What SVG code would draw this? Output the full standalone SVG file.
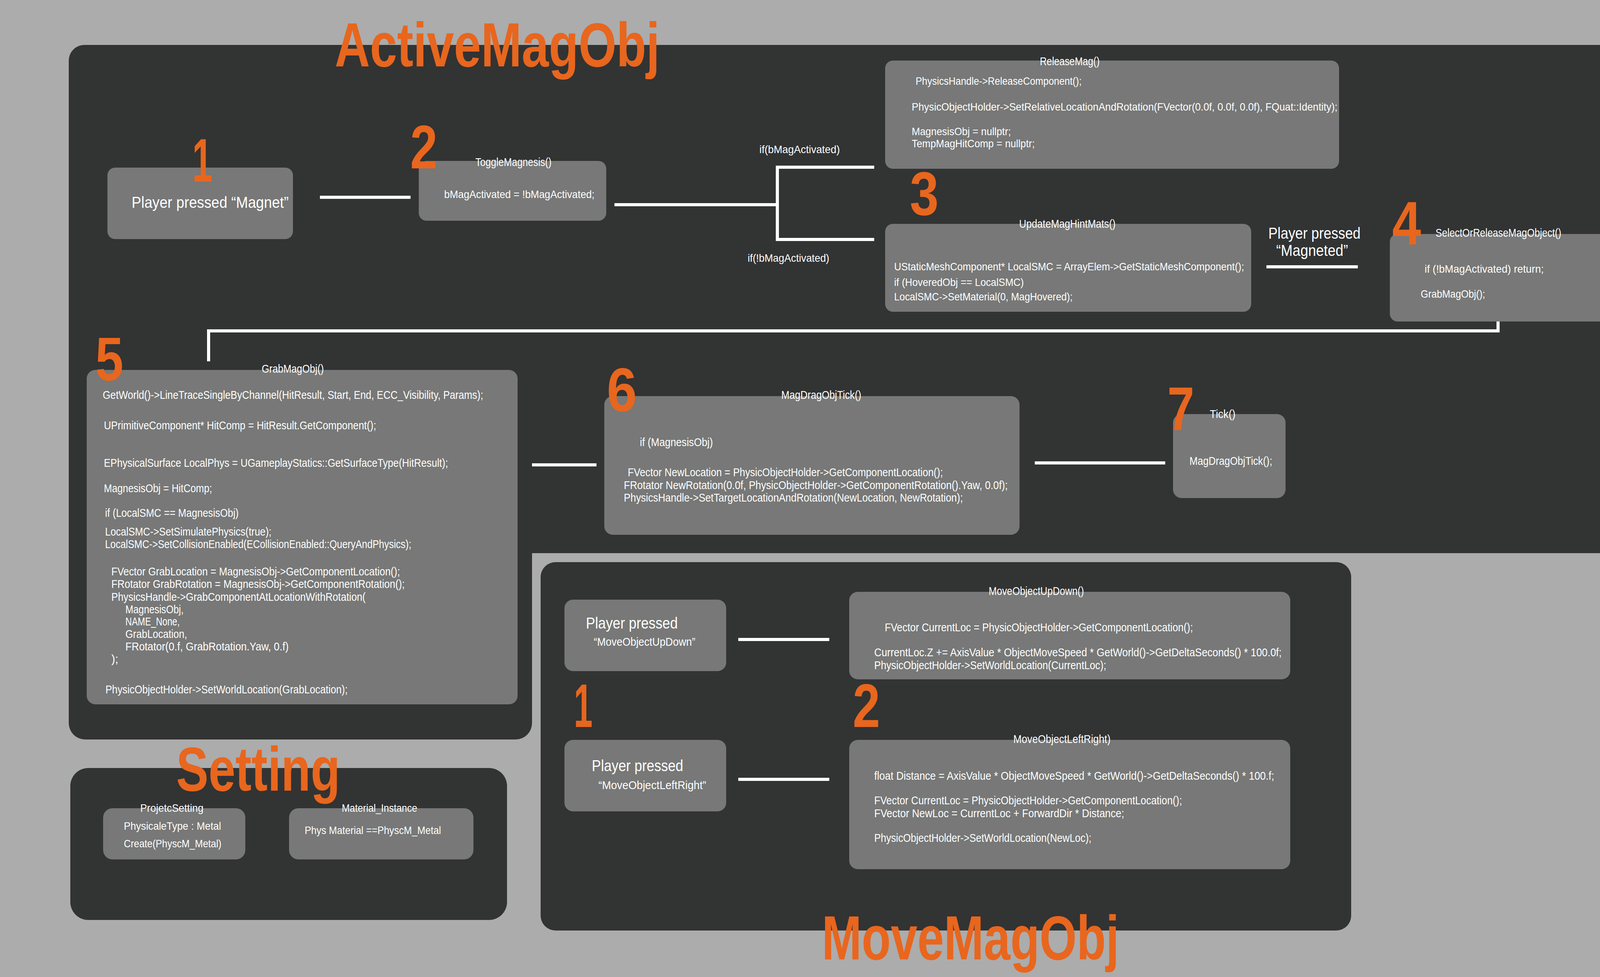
<svg xmlns="http://www.w3.org/2000/svg" width="4378" height="2501" viewBox="0 0 4378 2501">
<style>
text{font-family:"Liberation Sans",Arial,sans-serif;fill:#ffffff;}
.panel{fill:#323333;}
.box{fill:#777877;}
.title{font-size:160px;fill:#e8661e;font-weight:bold;}
.num{font-size:158px;fill:#e8661e;text-anchor:middle;font-weight:bold;}
.t{font-size:30px;}
.s{font-size:28px;}
.big{font-size:40px;}
.conn{stroke:#ffffff;stroke-width:8;fill:none;}
</style>
<rect x="0" y="0" width="4378" height="2501" fill="#acacac"/>

<g id="panel-activemagobj">
<path class="panel" d="M 216 115 H 4170 A 40 40 0 0 1 4210 155 V 1376 A 40 40 0 0 1 4170 1416 H 1362 V 1851 A 42 42 0 0 1 1320 1893 H 218 A 42 42 0 0 1 176 1851 V 155 A 40 40 0 0 1 216 115 Z"/>
</g>
<g id="panel-movemagobj">
<rect class="panel" x="1384" y="1439" width="2075" height="943" rx="38"/>
</g>
<g id="panel-setting">
<rect class="panel" x="180" y="1966" width="1118" height="389" rx="46"/>
</g>

<g id="connectors">
<line class="conn" x1="819" y1="505" x2="1051" y2="505"/>
<line class="conn" x1="1573" y1="524" x2="1990" y2="524"/>
<polyline class="conn" points="2238,428 1990,428 1990,613 2238,613"/>
<line class="conn" x1="3242" y1="683" x2="3476" y2="683"/>
<polyline class="conn" points="3835,823 3835,847 534,847 534,925"/>
<line class="conn" x1="1362" y1="1190" x2="1527" y2="1190"/>
<line class="conn" x1="2649" y1="1185" x2="2983" y2="1185"/>
<line class="conn" x1="1890" y1="1637" x2="2123" y2="1637"/>
<line class="conn" x1="1890" y1="1995" x2="2123" y2="1995"/>
</g>

<g id="label-branches">
<text class="s" x="1944" y="392" textLength="206" lengthAdjust="spacingAndGlyphs">if(bMagActivated)</text>
<text class="s" x="1914" y="670" textLength="209" lengthAdjust="spacingAndGlyphs">if(!bMagActivated)</text>
</g>

<g id="node-player-magnet">
<rect class="box" x="275" y="429" width="475" height="183" rx="20"/>
<text class="big" x="337" y="532" textLength="402" lengthAdjust="spacingAndGlyphs">Player pressed “Magnet”</text>
</g>

<g id="node-togglemagnesis">
<rect class="box" x="1072" y="412" width="480" height="153" rx="20"/>
<text class="t" x="1217" y="425" textLength="195" lengthAdjust="spacingAndGlyphs">ToggleMagnesis()</text>
<text class="s" x="1137" y="507" textLength="385" lengthAdjust="spacingAndGlyphs">bMagActivated = !bMagActivated;</text>
</g>

<g id="node-releasemag">
<rect class="box" x="2266" y="155" width="1162" height="277" rx="20"/>
<text class="t" x="2662" y="167" textLength="153" lengthAdjust="spacingAndGlyphs">ReleaseMag()</text>
<text class="s" x="2344" y="217" textLength="425" lengthAdjust="spacingAndGlyphs">PhysicsHandle-&gt;ReleaseComponent();</text>
<text class="s" x="2334" y="283" textLength="1090" lengthAdjust="spacingAndGlyphs">PhysicObjectHolder-&gt;SetRelativeLocationAndRotation(FVector(0.0f, 0.0f, 0.0f), FQuat::Identity);</text>
<text class="s" x="2334" y="346" textLength="254" lengthAdjust="spacingAndGlyphs">MagnesisObj = nullptr;</text>
<text class="s" x="2334" y="377" textLength="315" lengthAdjust="spacingAndGlyphs">TempMagHitComp = nullptr;</text>
</g>

<g id="node-updatemaghintmats">
<rect class="box" x="2266" y="573" width="937" height="225" rx="20"/>
<text class="t" x="2609" y="583" textLength="247" lengthAdjust="spacingAndGlyphs">UpdateMagHintMats()</text>
<text class="s" x="2289" y="692" textLength="896" lengthAdjust="spacingAndGlyphs">UStaticMeshComponent* LocalSMC = ArrayElem-&gt;GetStaticMeshComponent();</text>
<text class="s" x="2289" y="732" textLength="332" lengthAdjust="spacingAndGlyphs">if (HoveredObj == LocalSMC)</text>
<text class="s" x="2289" y="769" textLength="457" lengthAdjust="spacingAndGlyphs">LocalSMC-&gt;SetMaterial(0, MagHovered);</text>
</g>

<g id="label-player-magneted">
<text class="big" x="3247" y="611" textLength="236" lengthAdjust="spacingAndGlyphs">Player pressed</text>
<text class="big" x="3267" y="655" textLength="184" lengthAdjust="spacingAndGlyphs">“Magneted”</text>
</g>

<g id="node-selectorreleasemagobject">
<rect class="box" x="3558" y="599" width="565" height="224" rx="20"/>
<text class="t" x="3675" y="606" textLength="322" lengthAdjust="spacingAndGlyphs">SelectOrReleaseMagObject()</text>
<text class="s" x="3647" y="698" textLength="305" lengthAdjust="spacingAndGlyphs">if (!bMagActivated) return;</text>
<text class="s" x="3637" y="762" textLength="165" lengthAdjust="spacingAndGlyphs">GrabMagObj();</text>
</g>

<g id="node-grabmagobj">
<rect class="box" x="222" y="947" width="1103" height="856" rx="22"/>
<text class="t" x="670" y="954" textLength="159" lengthAdjust="spacingAndGlyphs">GrabMagObj()</text>
<text class="t" x="263" y="1021" textLength="974" lengthAdjust="spacingAndGlyphs">GetWorld()-&gt;LineTraceSingleByChannel(HitResult, Start, End, ECC_Visibility, Params);</text>
<text class="t" x="266" y="1099" textLength="697" lengthAdjust="spacingAndGlyphs">UPrimitiveComponent* HitComp = HitResult.GetComponent();</text>
<text class="t" x="266" y="1195" textLength="881" lengthAdjust="spacingAndGlyphs">EPhysicalSurface LocalPhys = UGameplayStatics::GetSurfaceType(HitResult);</text>
<text class="t" x="266" y="1260" textLength="277" lengthAdjust="spacingAndGlyphs">MagnesisObj = HitComp;</text>
<text class="t" x="269" y="1323" textLength="342" lengthAdjust="spacingAndGlyphs">if (LocalSMC == MagnesisObj)</text>
<text class="t" x="269" y="1371" textLength="426" lengthAdjust="spacingAndGlyphs">LocalSMC-&gt;SetSimulatePhysics(true);</text>
<text class="t" x="269" y="1403" textLength="784" lengthAdjust="spacingAndGlyphs">LocalSMC-&gt;SetCollisionEnabled(ECollisionEnabled::QueryAndPhysics);</text>
<text class="t" x="285" y="1473" textLength="739" lengthAdjust="spacingAndGlyphs">FVector GrabLocation = MagnesisObj-&gt;GetComponentLocation();</text>
<text class="t" x="285" y="1505" textLength="751" lengthAdjust="spacingAndGlyphs">FRotator GrabRotation = MagnesisObj-&gt;GetComponentRotation();</text>
<text class="t" x="285" y="1538" textLength="651" lengthAdjust="spacingAndGlyphs">PhysicsHandle-&gt;GrabComponentAtLocationWithRotation(</text>
<text class="t" x="321" y="1570" textLength="149" lengthAdjust="spacingAndGlyphs">MagnesisObj,</text>
<text class="t" x="321" y="1601" textLength="139" lengthAdjust="spacingAndGlyphs">NAME_None,</text>
<text class="t" x="321" y="1633" textLength="158" lengthAdjust="spacingAndGlyphs">GrabLocation,</text>
<text class="t" x="321" y="1665" textLength="418" lengthAdjust="spacingAndGlyphs">FRotator(0.f, GrabRotation.Yaw, 0.f)</text>
<text class="t" x="285" y="1697" textLength="18" lengthAdjust="spacingAndGlyphs">);</text>
<text class="t" x="270" y="1775" textLength="620" lengthAdjust="spacingAndGlyphs">PhysicObjectHolder-&gt;SetWorldLocation(GrabLocation);</text>
</g>

<g id="node-magdragobjtick">
<rect class="box" x="1547" y="1014" width="1063" height="355" rx="22"/>
<text class="t" x="2000" y="1021" textLength="205" lengthAdjust="spacingAndGlyphs">MagDragObjTick()</text>
<text class="t" x="1638" y="1142" textLength="187" lengthAdjust="spacingAndGlyphs">if (MagnesisObj)</text>
<text class="t" x="1607" y="1219" textLength="807" lengthAdjust="spacingAndGlyphs">FVector NewLocation = PhysicObjectHolder-&gt;GetComponentLocation();</text>
<text class="t" x="1597" y="1252" textLength="983" lengthAdjust="spacingAndGlyphs">FRotator NewRotation(0.0f, PhysicObjectHolder-&gt;GetComponentRotation().Yaw, 0.0f);</text>
<text class="t" x="1597" y="1284" textLength="868" lengthAdjust="spacingAndGlyphs">PhysicsHandle-&gt;SetTargetLocationAndRotation(NewLocation, NewRotation);</text>
</g>

<g id="node-tick">
<rect class="box" x="3003" y="1060" width="288" height="215" rx="22"/>
<text class="t" x="3097" y="1070" textLength="66" lengthAdjust="spacingAndGlyphs">Tick()</text>
<text class="t" x="3045" y="1190" textLength="212" lengthAdjust="spacingAndGlyphs">MagDragObjTick();</text>
</g>

<g id="node-player-moveupdown">
<rect class="box" x="1445" y="1535" width="414" height="183" rx="22"/>
<text class="big" x="1500" y="1609" textLength="235" lengthAdjust="spacingAndGlyphs">Player pressed</text>
<text class="t" x="1520" y="1653" textLength="260" lengthAdjust="spacingAndGlyphs">“MoveObjectUpDown”</text>
</g>

<g id="node-moveobjectupdown">
<rect class="box" x="2174" y="1515" width="1129" height="224" rx="22"/>
<text class="t" x="2531" y="1523" textLength="244" lengthAdjust="spacingAndGlyphs">MoveObjectUpDown()</text>
<text class="t" x="2265" y="1616" textLength="789" lengthAdjust="spacingAndGlyphs">FVector CurrentLoc = PhysicObjectHolder-&gt;GetComponentLocation();</text>
<text class="t" x="2238" y="1680" textLength="1043" lengthAdjust="spacingAndGlyphs">CurrentLoc.Z += AxisValue * ObjectMoveSpeed * GetWorld()-&gt;GetDeltaSeconds() * 100.0f;</text>
<text class="t" x="2238" y="1713" textLength="594" lengthAdjust="spacingAndGlyphs">PhysicObjectHolder-&gt;SetWorldLocation(CurrentLoc);</text>
</g>

<g id="node-player-moveleftright">
<rect class="box" x="1445" y="1894" width="414" height="183" rx="22"/>
<text class="big" x="1515" y="1974" textLength="234" lengthAdjust="spacingAndGlyphs">Player pressed</text>
<text class="t" x="1532" y="2020" textLength="276" lengthAdjust="spacingAndGlyphs">“MoveObjectLeftRight”</text>
</g>

<g id="node-moveobjectleftright">
<rect class="box" x="2174" y="1894" width="1129" height="331" rx="22"/>
<text class="t" x="2594" y="1902" textLength="249" lengthAdjust="spacingAndGlyphs">MoveObjectLeftRight)</text>
<text class="t" x="2238" y="1996" textLength="1024" lengthAdjust="spacingAndGlyphs">float Distance = AxisValue * ObjectMoveSpeed * GetWorld()-&gt;GetDeltaSeconds() * 100.f;</text>
<text class="t" x="2238" y="2059" textLength="788" lengthAdjust="spacingAndGlyphs">FVector CurrentLoc = PhysicObjectHolder-&gt;GetComponentLocation();</text>
<text class="t" x="2238" y="2092" textLength="640" lengthAdjust="spacingAndGlyphs">FVector NewLoc = CurrentLoc + ForwardDir * Distance;</text>
<text class="t" x="2238" y="2155" textLength="556" lengthAdjust="spacingAndGlyphs">PhysicObjectHolder-&gt;SetWorldLocation(NewLoc);</text>
</g>

<g id="node-projetcsetting">
<rect class="box" x="264" y="2069" width="364" height="131" rx="24"/>
<text class="s" x="359" y="2078" textLength="162" lengthAdjust="spacingAndGlyphs">ProjetcSetting</text>
<text class="s" x="317" y="2124" textLength="249" lengthAdjust="spacingAndGlyphs">PhysicaleType : Metal</text>
<text class="s" x="317" y="2169" textLength="250" lengthAdjust="spacingAndGlyphs">Create(PhyscM_Metal)</text>
</g>

<g id="node-material-instance">
<rect class="box" x="740" y="2069" width="472" height="131" rx="24"/>
<text class="s" x="875" y="2078" textLength="193" lengthAdjust="spacingAndGlyphs">Material_Instance</text>
<text class="s" x="780" y="2135" textLength="349" lengthAdjust="spacingAndGlyphs">Phys Material ==PhyscM_Metal</text>
</g>

<g id="titles">
<text class="title" x="857" y="170" textLength="832" lengthAdjust="spacingAndGlyphs">ActiveMagObj</text>
<text class="title" x="451" y="2024" textLength="420" lengthAdjust="spacingAndGlyphs">Setting</text>
<text class="title" x="2104" y="2456" textLength="761" lengthAdjust="spacingAndGlyphs">MoveMagObj</text>
</g>

<g id="step-numbers">
<text class="num" x="518" y="465" textLength="52" lengthAdjust="spacingAndGlyphs">1</text>
<text class="num" x="1085" y="431" textLength="70" lengthAdjust="spacingAndGlyphs">2</text>
<text class="num" x="2366" y="550" textLength="74" lengthAdjust="spacingAndGlyphs">3</text>
<text class="num" x="3601" y="626" textLength="74" lengthAdjust="spacingAndGlyphs">4</text>
<text class="num" x="280" y="973" textLength="72" lengthAdjust="spacingAndGlyphs">5</text>
<text class="num" x="1592" y="1052" textLength="77" lengthAdjust="spacingAndGlyphs">6</text>
<text class="num" x="3023" y="1101" textLength="69" lengthAdjust="spacingAndGlyphs">7</text>
<text class="num" x="1493" y="1861" textLength="48" lengthAdjust="spacingAndGlyphs">1</text>
<text class="num" x="2218" y="1861" textLength="70" lengthAdjust="spacingAndGlyphs">2</text>
</g>
</svg>
